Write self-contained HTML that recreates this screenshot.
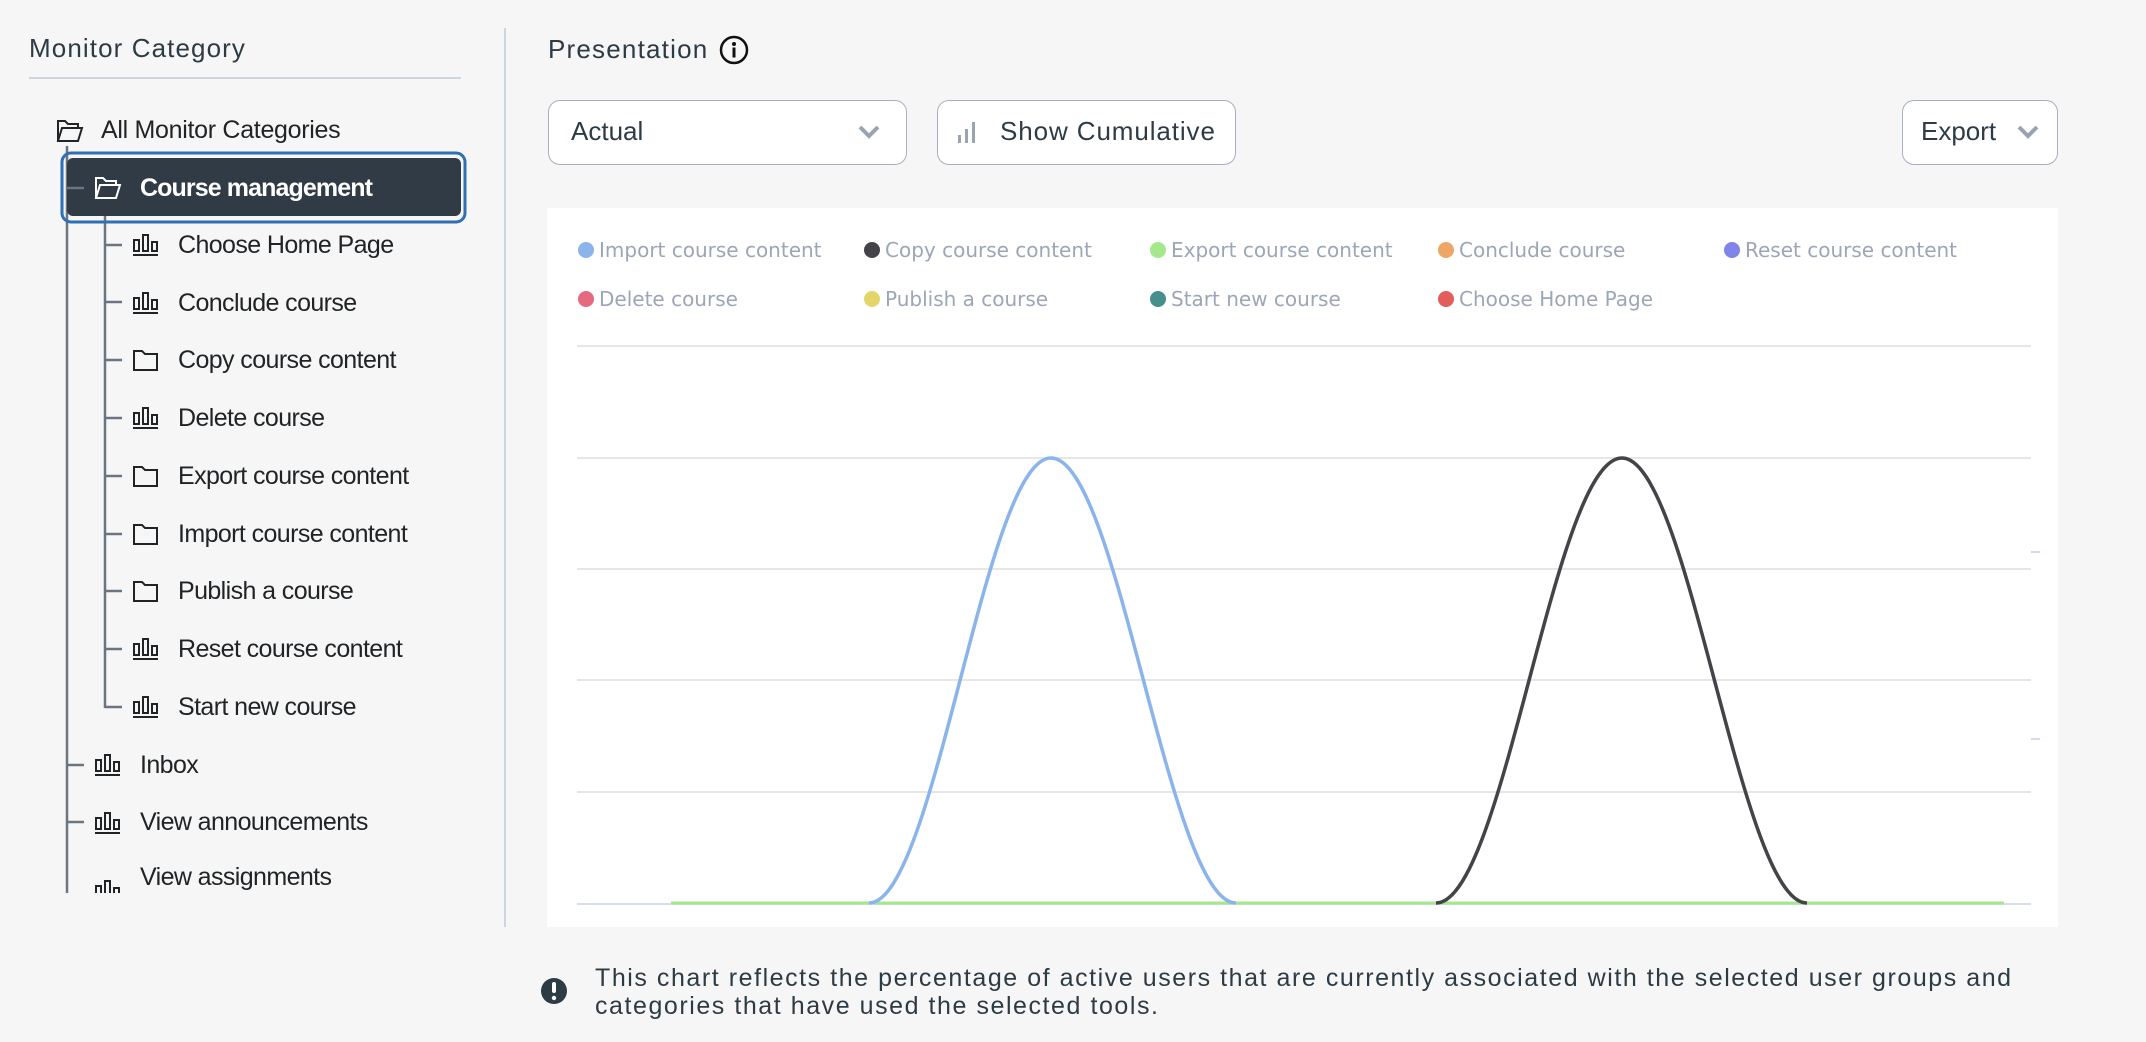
<!DOCTYPE html>
<html><head><meta charset="utf-8"><style>
body{margin:0;width:2146px;height:1042px;background:#f6f6f6;position:relative;overflow:hidden;font-family:"Liberation Sans",sans-serif}
.a{position:absolute;white-space:nowrap}
.t{font-size:25px;color:#202427;line-height:30px}
.ic{position:absolute}
.btn{position:absolute;background:#fff;border:1.5px solid #a6b0bd;border-radius:12px;box-sizing:border-box}
.lg{position:absolute;font-family:"DejaVu Sans",sans-serif;font-size:20px;color:#9ba6b6;line-height:24px;white-space:nowrap}
.lg i{position:absolute;left:-21px;top:4px;width:16px;height:16px;border-radius:50%}
</style></head><body>
<div class="a" style="left:29px;top:33px;font-size:26px;color:#2d3b45;letter-spacing:1.1px">Monitor Category</div>
<div class="a" style="left:29px;top:77px;width:432px;height:2px;background:#cfd5dc"></div>
<div class="a" style="left:504px;top:28px;width:2px;height:899px;background:#cfd5dc"></div>

<svg class="ic" style="left:0;top:0" width="520" height="900">
<g stroke="#6b7580" stroke-width="2.5" fill="none">
<line x1="67" y1="146" x2="67" y2="893"/>
<line x1="105" y1="216" x2="105" y2="708"/>
<line x1="67" y1="765" x2="84" y2="765"/><line x1="67" y1="822" x2="84" y2="822"/>
<line x1="105" y1="245" x2="122" y2="245"/><line x1="105" y1="302" x2="122" y2="302"/><line x1="105" y1="360" x2="122" y2="360"/><line x1="105" y1="418" x2="122" y2="418"/><line x1="105" y1="476" x2="122" y2="476"/><line x1="105" y1="534" x2="122" y2="534"/><line x1="105" y1="591" x2="122" y2="591"/><line x1="105" y1="649" x2="122" y2="649"/><line x1="105" y1="707" x2="122" y2="707"/>
</g>
<defs>
<g id="bar" fill="none" stroke="#202427" stroke-width="2"><rect x="1" y="6" width="5" height="11"/><rect x="10" y="1" width="5" height="16"/><rect x="19" y="8" width="5" height="9"/><line x1="0" y1="21" x2="25" y2="21"/></g>
<g id="fold" fill="none" stroke="#202427" stroke-width="2"><path d="M1 3 H9 L12 6 H24 V22 H1 Z"/></g>
<g id="ofold" fill="none" stroke-width="2"><path d="M1 22 V2 H8 L11 5 H21 V9"/><path d="M1 22 L5 9 H25 L21 22 Z"/></g>
</defs>
<use href="#ofold" x="57" y="119" stroke="#202427"/>
<rect x="62" y="153" width="403" height="69" rx="9" fill="none" stroke="#2f6fb3" stroke-width="3"/>
<rect x="67" y="158" width="394" height="58" rx="6" fill="#313b45"/>
<line x1="67" y1="188" x2="84" y2="188" stroke="#6b7580" stroke-width="2.5"/>
<use href="#ofold" x="95" y="176" stroke="#fff"/>
<use href="#bar" x="133" y="234"/><use href="#bar" x="133" y="292"/><use href="#fold" x="133" y="348"/><use href="#bar" x="133" y="407"/><use href="#fold" x="133" y="464"/><use href="#fold" x="133" y="522"/><use href="#fold" x="133" y="579"/><use href="#bar" x="133" y="638"/><use href="#bar" x="133" y="696"/>
<use href="#bar" x="95" y="754"/><use href="#bar" x="95" y="812"/>
<g clip-path="url(#cp)"><use href="#bar" x="95" y="880"/></g>
<clipPath id="cp"><rect x="0" y="0" width="520" height="893"/></clipPath>
</svg>
<div class="a t" style="left:101px;top:115px;letter-spacing:-0.3px">All Monitor Categories</div>
<div class="a t" style="left:140px;top:173px;color:#fff;font-weight:bold;letter-spacing:-0.9px">Course management</div>
<div class="a t" style="left:178px;top:230px;letter-spacing:-0.6px">Choose Home Page</div>
<div class="a t" style="left:178px;top:288px;letter-spacing:-0.6px">Conclude course</div>
<div class="a t" style="left:178px;top:345px;letter-spacing:-0.6px">Copy course content</div>
<div class="a t" style="left:178px;top:403px;letter-spacing:-0.6px">Delete course</div>
<div class="a t" style="left:178px;top:461px;letter-spacing:-0.6px">Export course content</div>
<div class="a t" style="left:178px;top:519px;letter-spacing:-0.6px">Import course content</div>
<div class="a t" style="left:178px;top:576px;letter-spacing:-0.6px">Publish a course</div>
<div class="a t" style="left:178px;top:634px;letter-spacing:-0.6px">Reset course content</div>
<div class="a t" style="left:178px;top:692px;letter-spacing:-0.6px">Start new course</div>
<div class="a t" style="left:140px;top:750px;letter-spacing:-0.6px">Inbox</div>
<div class="a t" style="left:140px;top:807px;letter-spacing:-0.6px">View announcements</div>
<div class="a" style="left:140px;top:862px;height:31px;overflow:hidden"><div class="t" style="letter-spacing:-0.6px">View assignments</div></div>

<div class="a" style="left:548px;top:34px;font-size:26px;color:#2d3b45;letter-spacing:1.2px">Presentation</div>
<svg class="ic" style="left:719px;top:35px" width="30" height="30"><circle cx="15" cy="15" r="13" fill="none" stroke="#111" stroke-width="2.5"/><circle cx="15" cy="9" r="2" fill="#111"/><rect x="13.5" y="12.5" width="3" height="10" fill="#111"/></svg>

<div class="btn" style="left:548px;top:100px;width:359px;height:65px"></div>
<div class="a" style="left:571px;top:116px;font-size:26px;color:#2d3b45">Actual</div>
<svg class="ic" style="left:858px;top:124px" width="22" height="16"><path d="M2 3 L11 12 L20 3" fill="none" stroke="#9aa4b1" stroke-width="4"/></svg>
<div class="btn" style="left:937px;top:100px;width:299px;height:65px"></div>
<svg class="ic" style="left:957px;top:120px" width="20" height="24"><rect x="1" y="15" width="3" height="8" fill="#9aa4b1"/><rect x="8" y="9" width="3" height="14" fill="#9aa4b1"/><rect x="15" y="2" width="3" height="21" fill="#9aa4b1"/></svg>
<div class="a" style="left:1000px;top:116px;font-size:26px;color:#2d3b45;letter-spacing:0.9px">Show Cumulative</div>
<div class="btn" style="left:1902px;top:100px;width:156px;height:65px"></div>
<div class="a" style="left:1921px;top:116px;font-size:26px;color:#2d3b45">Export</div>
<svg class="ic" style="left:2017px;top:124px" width="22" height="16"><path d="M2 3 L11 12 L20 3" fill="none" stroke="#9aa4b1" stroke-width="4"/></svg>

<div class="a" style="left:547px;top:208px;width:1511px;height:719px;background:#fff"></div>
<div class="lg" style="left:599px;top:238px"><i style="background:#8ab4ea"></i>Import course content</div>
<div class="lg" style="left:885px;top:238px"><i style="background:#434348"></i>Copy course content</div>
<div class="lg" style="left:1171px;top:238px"><i style="background:#a5e88b"></i>Export course content</div>
<div class="lg" style="left:1459px;top:238px"><i style="background:#efa563"></i>Conclude course</div>
<div class="lg" style="left:1745px;top:238px"><i style="background:#8085e9"></i>Reset course content</div>
<div class="lg" style="left:599px;top:287px"><i style="background:#e5697f"></i>Delete course</div>
<div class="lg" style="left:885px;top:287px"><i style="background:#e3d56a"></i>Publish a course</div>
<div class="lg" style="left:1171px;top:287px"><i style="background:#468f8c"></i>Start new course</div>
<div class="lg" style="left:1459px;top:287px"><i style="background:#e35d5b"></i>Choose Home Page</div>

<svg class="ic" style="left:0;top:0" width="2146" height="1042">
<g stroke="#e6e6e6" stroke-width="2">
<line x1="577" y1="346" x2="2031" y2="346"/><line x1="577" y1="458" x2="2031" y2="458"/><line x1="577" y1="569" x2="2031" y2="569"/><line x1="577" y1="680" x2="2031" y2="680"/><line x1="577" y1="792" x2="2031" y2="792"/>
</g>
<line x1="2031" y1="552" x2="2040" y2="552" stroke="#d5d9e8" stroke-width="2"/>
<line x1="2031" y1="739" x2="2040" y2="739" stroke="#d5d9e8" stroke-width="2"/>
<line x1="577" y1="904" x2="2031" y2="904" stroke="#d8dcef" stroke-width="2"/>
<line x1="671" y1="903" x2="2004" y2="903" stroke="#a5e88b" stroke-width="3"/>
<path d="M869 903 C935 903 985 458 1051 458 C1118 458 1169 903 1236 903" fill="none" stroke="#8ab4ea" stroke-width="3.5"/>
<path d="M1436 903 C1504 903 1554 458 1622 458 C1689 458 1740 903 1807 903" fill="none" stroke="#434348" stroke-width="3.5"/>
<circle cx="554" cy="991" r="13" fill="#2d3b45"/>
<rect x="552" y="982" width="4" height="11" rx="2" fill="#fff"/><circle cx="554" cy="998" r="2.2" fill="#fff"/>
</svg>
<div class="a" style="left:595px;top:964px;font-size:25px;line-height:28px;color:#2d3b45;letter-spacing:1.55px">This chart reflects the percentage of active users that are currently associated with the selected user groups and<br>categories that have used the selected tools.</div>
</body></html>
